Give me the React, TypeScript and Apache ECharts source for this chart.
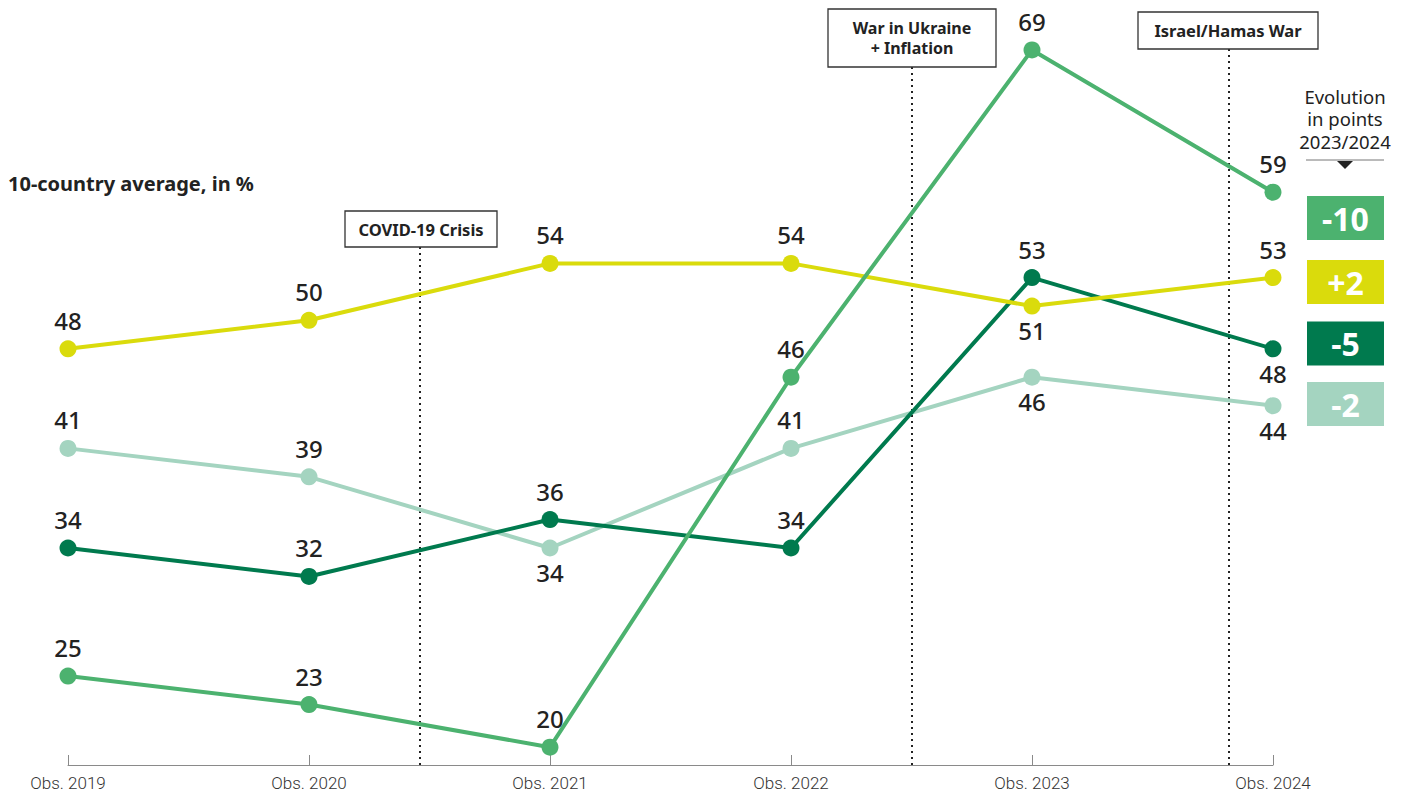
import React, { useEffect, useRef } from "react";
import * as echarts from "echarts";

const categories = ["Obs. 2019", "Obs. 2020", "Obs. 2021", "Obs. 2022", "Obs. 2023", "Obs. 2024"];
const greenValues = [25, 23, 20, 46, 69, 59];
const yellowValues = [48, 50, 54, 54, 51, 53];
const darkGreenValues = [34, 32, 36, 34, 53, 48];
const lightGreenValues = [41, 39, 34, 41, 46, 44];
// label below the point?
const greenBelow = [false, false, false, false, false, false];
const yellowBelow = [false, false, false, false, true, false];
const darkGreenBelow = [false, false, false, false, false, true];
const lightGreenBelow = [false, false, true, false, true, true];

const seriesDefs = [
  { name: "green", color: "#4cb26f", values: greenValues, below: greenBelow },
  { name: "yellow", color: "#dadb0c", values: yellowValues, below: yellowBelow },
  { name: "darkGreen", color: "#007a4e", values: darkGreenValues, below: darkGreenBelow },
  { name: "lightGreen", color: "#a4d4c0", values: lightGreenValues, below: lightGreenBelow },
];
const paintOrder = ["lightGreen", "darkGreen", "yellow", "green"];

const events = [
  { lines: ["COVID-19 Crisis"], x: 420, box: [345, 211, 152, 36] },
  { lines: ["War in Ukraine", "+ Inflation"], x: 912, box: [828, 9, 168, 58] },
  { lines: ["Israel/Hamas War"], x: 1229, box: [1138, 12, 180, 37] },
];

const titleText = "10-country average, in %";
const evolutionHeader = ["Evolution", "in points", "2023/2024"];
const boxCenters = [218, 282, 343.5, 404];

export default function App() {
  const ref = useRef<HTMLDivElement>(null);
  useEffect(() => {
    if (!ref.current) return;
    const chart = echarts.init(ref.current, null, { renderer: "svg" });
    const FONT = "'Noto Sans', sans-serif";

    const series = paintOrder.map((n) => {
      const s = seriesDefs.find((d) => d.name === n)!;
      return {
        type: "line",
        name: s.name,
        data: s.values.map((v, i) => ({
          value: [i, v],
          label: { position: s.below[i] ? "bottom" : "top", distance: s.below[i] ? 4 : 8 },
        })),
        symbol: "circle",
        symbolSize: 17,
        lineStyle: { color: s.color, width: 4 },
        itemStyle: { color: s.color },
        label: {
          show: true,
          fontSize: 24,
          fontWeight: 500,
          fontFamily: FONT,
          color: "#222",
          formatter: (p: any) => String(p.value[1]),
        },
        emphasis: { disabled: true },
      };
    });

    const graphics: any[] = [];
    graphics.push({
      type: "text",
      left: 8,
      top: 173,
      style: { text: titleText, font: `bold 20px ${FONT}`, fill: "#222" },
    });
    events.forEach((e) => {
      const [bx, by, bw, bh] = e.box;
      graphics.push({
        type: "line",
        shape: { x1: e.x, y1: by + bh, x2: e.x, y2: 765 },
        style: { stroke: "#222", lineWidth: 2, lineDash: [2, 4] },
      });
      graphics.push({
        type: "rect",
        shape: { x: bx, y: by, width: bw, height: bh },
        style: { fill: "#fff", stroke: "#333", lineWidth: 1.3 },
      });
      const multi = e.lines.length > 1;
      const step = 20;
      const y0 = by + bh / 2 - ((e.lines.length - 1) * step) / 2;
      e.lines.forEach((ln, j) => {
        graphics.push({
          type: "text",
          x: bx + bw / 2,
          y: y0 + j * step,
          style: {
            text: ln,
            font: `bold ${multi ? 16 : 16.5}px ${FONT}`,
            fill: "#222",
            align: "center",
            verticalAlign: "middle",
          },
        });
      });
    });
    evolutionHeader.forEach((ln, j) => {
      graphics.push({
        type: "text",
        x: 1345,
        y: 96 + j * 22.5,
        style: {
          text: ln,
          font: `18.5px ${FONT}`,
          fill: "#222",
          align: "center",
          verticalAlign: "middle",
        },
      });
    });
    graphics.push({
      type: "line",
      shape: { x1: 1306, y1: 160, x2: 1384, y2: 160 },
      style: { stroke: "#777", lineWidth: 1 },
    });
    graphics.push({
      type: "polygon",
      shape: { points: [[1337, 161], [1353, 161], [1345, 169]] },
      style: { fill: "#222" },
    });
    seriesDefs.forEach((s, k) => {
      const n = s.values.length;
      const d = s.values[n - 1] - s.values[n - 2];
      const txt = d > 0 ? `+${d}` : `${d}`;
      const cy = boxCenters[k];
      graphics.push({
        type: "rect",
        shape: { x: 1307, y: cy - 22, width: 77, height: 44 },
        style: { fill: s.color },
      });
      graphics.push({
        type: "text",
        x: 1345.5,
        y: cy,
        style: {
          text: txt,
          font: `bold 32px ${FONT}`,
          fill: "#fff",
          align: "center",
          verticalAlign: "middle",
        },
      });
    });

    chart.setOption({
      animation: false,
      grid: { left: 68, right: 137, top: 35.7, bottom: 31 },
      xAxis: {
        type: "value",
        min: 0,
        max: categories.length - 1,
        interval: 1,
        splitLine: { show: false },
        axisLine: { show: true, lineStyle: { color: "#8a8a8a", width: 1 } },
        axisTick: { show: true, inside: true, length: 10, lineStyle: { color: "#8a8a8a" } },
        axisLabel: {
          margin: 9,
          fontSize: 17,
          fontFamily: "Roboto, sans-serif",
          fontWeight: 300,
          color: "#333",
          formatter: (v: number) => categories[Math.round(v)] ?? "",
        },
      },
      yAxis: {
        type: "value",
        min: 18.75,
        max: 70,
        show: false,
        splitLine: { show: false },
      },
      series,
      graphic: graphics,
    });
    return () => chart.dispose();
  }, []);
  return (
    <div
      ref={ref}
      style={{ position: "absolute", left: 0, top: 0, width: 1410, height: 796, background: "#fff" }}
    />
  );
}
